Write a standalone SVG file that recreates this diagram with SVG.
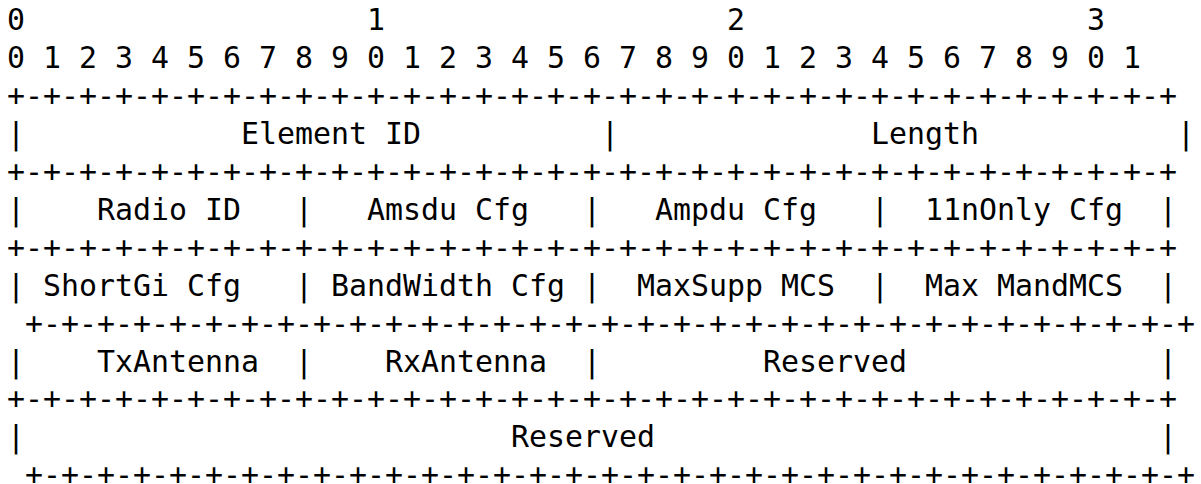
<svg xmlns="http://www.w3.org/2000/svg" width="1201" height="484" viewBox="0 0 1201 484">
<style>
text { font-family: "DejaVu Sans Mono", "Liberation Mono", monospace; font-size: 29.9px; fill: #000; white-space: pre; }
</style>
<rect width="1201" height="484" fill="#fff"/>
<g id="ruler">
<text x="7" y="30.4">0</text>
<text x="367" y="30.4">1</text>
<text x="727" y="30.4">2</text>
<text x="1087" y="30.4">3</text>
<text x="7" y="68.3" textLength="1134" lengthAdjust="spacing" xml:space="preserve">0 1 2 3 4 5 6 7 8 9 0 1 2 3 4 5 6 7 8 9 0 1 2 3 4 5 6 7 8 9 0 1</text>
</g>
<g id="connectors">
<text x="7" y="106.2" textLength="1170" lengthAdjust="spacing">+-+-+-+-+-+-+-+-+-+-+-+-+-+-+-+-+-+-+-+-+-+-+-+-+-+-+-+-+-+-+-+-+</text>
<text x="7" y="182.0" textLength="1170" lengthAdjust="spacing">+-+-+-+-+-+-+-+-+-+-+-+-+-+-+-+-+-+-+-+-+-+-+-+-+-+-+-+-+-+-+-+-+</text>
<text x="7" y="257.8" textLength="1170" lengthAdjust="spacing">+-+-+-+-+-+-+-+-+-+-+-+-+-+-+-+-+-+-+-+-+-+-+-+-+-+-+-+-+-+-+-+-+</text>
<text x="25" y="333.6" textLength="1170" lengthAdjust="spacing">+-+-+-+-+-+-+-+-+-+-+-+-+-+-+-+-+-+-+-+-+-+-+-+-+-+-+-+-+-+-+-+-+</text>
<text x="7" y="409.4" textLength="1170" lengthAdjust="spacing">+-+-+-+-+-+-+-+-+-+-+-+-+-+-+-+-+-+-+-+-+-+-+-+-+-+-+-+-+-+-+-+-+</text>
<text x="25" y="484.6" textLength="1170" lengthAdjust="spacing">+-+-+-+-+-+-+-+-+-+-+-+-+-+-+-+-+-+-+-+-+-+-+-+-+-+-+-+-+-+-+-+-+</text>
<text x="7" y="144.1">|</text><text x="601" y="144.1">|</text><text x="1177" y="144.1">|</text>
<text x="7" y="219.9">|</text><text x="295" y="219.9">|</text><text x="583" y="219.9">|</text><text x="871" y="219.9">|</text><text x="1159" y="219.9">|</text>
<text x="7" y="295.7">|</text><text x="295" y="295.7">|</text><text x="583" y="295.7">|</text><text x="871" y="295.7">|</text><text x="1159" y="295.7">|</text>
<text x="7" y="371.5">|</text><text x="295" y="371.5">|</text><text x="583" y="371.5">|</text><text x="1159" y="371.5">|</text>
<text x="7" y="447.3">|</text><text x="1159" y="447.3">|</text>
</g>
<g id="element-id"><text x="241" y="144.1">Element ID</text></g>
<g id="length"><text x="871" y="144.1">Length</text></g>
<g id="radio-id"><text x="97" y="219.9">Radio ID</text></g>
<g id="amsdu-cfg"><text x="367" y="219.9">Amsdu Cfg</text></g>
<g id="ampdu-cfg"><text x="655" y="219.9">Ampdu Cfg</text></g>
<g id="11nonly-cfg"><text x="925" y="219.9">11nOnly Cfg</text></g>
<g id="shortgi-cfg"><text x="43" y="295.7">ShortGi Cfg</text></g>
<g id="bandwidth-cfg"><text x="331" y="295.7">BandWidth Cfg</text></g>
<g id="maxsupp-mcs"><text x="637" y="295.7">MaxSupp MCS</text></g>
<g id="max-mandmcs"><text x="925" y="295.7">Max MandMCS</text></g>
<g id="txantenna"><text x="97" y="371.5">TxAntenna</text></g>
<g id="rxantenna"><text x="385" y="371.5">RxAntenna</text></g>
<g id="reserved-1"><text x="763" y="371.5">Reserved</text></g>
<g id="reserved-2"><text x="511" y="447.3">Reserved</text></g>
</svg>
